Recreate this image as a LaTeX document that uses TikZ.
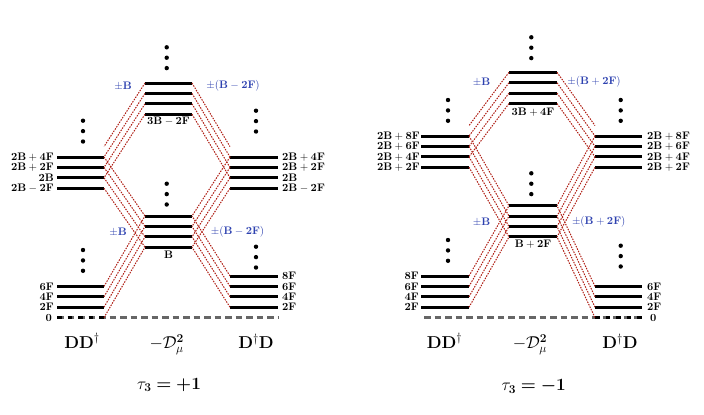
\documentclass[tikz,border=0pt]{standalone}
\usepackage{amsfonts, amsmath, amssymb, bm}
\usepackage{tikz}

\definecolor{shiftblue}{RGB}{45,65,175}
\definecolor{linkred}{RGB}{175,30,20}

\begin{document}
\begin{tikzpicture}[x=1bp, y=-1bp,
        level/.style={
            % The bar:
            line width=3bp,
            draw=black
        },
        zero/.style={
            % The ground level
            line width=3bp,
            draw=black!60,
            dash pattern=on 6.5bp off 4bp
        },
        link/.style={
            % The connectors
            line width=1bp,
            draw=linkred,
            dash pattern=on 1.5bp off 1.2bp
        },
        tag/.style={
            % Level labels
            font=\fontsize{10.8}{12}\selectfont,
            inner sep=0pt
        },
        shiftlabel/.style={
            % Shift labels
            text=shiftblue,
            font=\fontsize{10.8}{12}\selectfont,
            inner sep=0pt
        },
        title/.style={
            font=\fontsize{18.5}{22}\selectfont,
            anchor=base
        }]

    \useasboundingbox (0,0) rectangle (704,414);

    % ---------- tau_3 = +1 ----------
    \foreach \i/\y/\ytext in {1/157/2B+4F, 2/167.4/2B+2F, 3/177.8/2B, 4/188.2/2B-2F}
    {
        \coordinate (ulA\i) at (57,\y);
        \coordinate (ulB\i) at (104,\y);
        \coordinate (urA\i) at (230,\y);
        \coordinate (urB\i) at (278,\y);
        \draw [level] (ulA\i) -- (ulB\i);
        \draw [level] (urA\i) -- (urB\i);
        \node [tag, anchor=east] (ult\i) at (54,\y) {$\mathbf{\ytext}$};
        \node [tag, anchor=west] (urt\i) at (282,\y) {$\mathbf{\ytext}$};
    }
    \coordinate (ulB0) at (104,146.6);
    \coordinate (urA0) at (230,146.6);

    \foreach \i/\y in {1/83, 2/93.4, 3/103.8, 4/114.2}
    {
        \coordinate (mtA\i) at (145,\y);
        \coordinate (mtB\i) at (192,\y);
        \draw [level] (mtA\i) -- (mtB\i);
    }
    \foreach \i/\y in {1/216, 2/226.4, 3/236.8, 4/247.2}
    {
        \coordinate (mlA\i) at (145,\y);
        \coordinate (mlB\i) at (192,\y);
        \draw [level] (mlA\i) -- (mlB\i);
    }
    \node [tag] (mtt) at (168.5,121) {$\mathbf{3B-2F}$};
    \node [tag] (mlt) at (168.5,255) {$\mathbf{B}$};

    \foreach \i/\y/\ytext in {1/286.4/6F, 2/296.8/4F, 3/307.2/2F}
    {
        \coordinate (llA\i) at (57,\y);
        \coordinate (llB\i) at (104,\y);
        \draw [level] (llA\i) -- (llB\i);
        \node [tag, anchor=east] (llt\i) at (54,\y) {$\mathbf{\ytext}$};
    }
    \foreach \i/\y/\ytext in {1/276/8F, 2/286.4/6F, 3/296.8/4F, 4/307.2/2F}
    {
        \coordinate (lrA\i) at (230,\y);
        \coordinate (lrB\i) at (278,\y);
        \draw [level] (lrA\i) -- (lrB\i);
        \node [tag, anchor=west] (lrt\i) at (282,\y) {$\mathbf{\ytext}$};
    }
    \coordinate (llA4) at (57,317.6);
    \coordinate (llB4) at (104,317.6);
    \coordinate (zrB) at (278,317.6);
    \draw [zero] (llA4) -- (zrB);
    \draw [zero, draw=black, dash pattern=on 4.5bp off 6bp] (llA4) -- (llB4);
    \node [tag, anchor=east] (llt4) at (52,317.6) {$\mathbf{0}$};

    \foreach \i [evaluate=\i as \j using int(\i-1)] in {1,...,4}
    {
        \draw [link] (mtA\i) -- (ulB\j);
        \draw [link] (mtB\i) -- (urA\j);
        \draw [link] (ulB\i) -- (mlA\i);
        \draw [link] (urA\i) -- (mlB\i);
        \draw [link] (llB\i) -- (mlA\i);
        \draw [link] (lrA\i) -- (mlB\i);
    }

    \foreach \x/\y in {166.7/47.3, 83/120.7, 256/110.7, 166.7/183.7, 83/250, 256/246.7}
    {
        \fill (\x,\y) circle (2.2bp) (\x,\y+10.4) circle (2.2bp) (\x,\y+20.8) circle (2.2bp);
    }

    \node [shiftlabel] (sa) at (123,86) {$\pm\mathbf{B}$};
    \node [shiftlabel] (sb) at (233,86) {$\pm(\mathbf{B-2F})$};
    \node [shiftlabel] (sc) at (118,232) {$\pm\mathbf{B}$};
    \node [shiftlabel] (sd) at (237.5,232) {$\pm(\mathbf{B-2F})$};

    \node [title] (ta) at (82,348.3) {$\mathbf{DD}^\dagger$};
    \node [title] (tb) at (166.7,348.3) {$-\mathcal{D}_\mu^{\mathbf{2}}$};
    \node [title] (tc) at (256,348.3) {$\mathbf{D}^\dagger\mathbf{D}$};
    \node [title] (td) at (169,389) {$\tau_{\mathbf{3}} \bm{=} \bm{+1}$};

    % ---------- tau_3 = -1 ----------
    \foreach \i/\y/\ytext in {1/136/2B+8F, 2/146.4/2B+6F, 3/156.8/2B+4F, 4/167.2/2B+2F}
    {
        \coordinate (vlA\i) at (421,\y);
        \coordinate (vlB\i) at (469,\y);
        \coordinate (vrA\i) at (595,\y);
        \coordinate (vrB\i) at (642,\y);
        \draw [level] (vlA\i) -- (vlB\i);
        \draw [level] (vrA\i) -- (vrB\i);
        \node [tag, anchor=east] (vlt\i) at (420,\y) {$\mathbf{\ytext}$};
        \node [tag, anchor=west] (vrt\i) at (647,\y) {$\mathbf{\ytext}$};
    }
    \coordinate (vlB0) at (469,125.6);
    \coordinate (vrA0) at (595,125.6);

    \foreach \i/\y in {1/72.3, 2/82.7, 3/93.1, 4/103.5}
    {
        \coordinate (ntA\i) at (509,\y);
        \coordinate (ntB\i) at (557,\y);
        \draw [level] (ntA\i) -- (ntB\i);
    }
    \foreach \i/\y in {1/205.7, 2/216.1, 3/226.5, 4/236.9}
    {
        \coordinate (nlA\i) at (509,\y);
        \coordinate (nlB\i) at (557,\y);
        \draw [level] (nlA\i) -- (nlB\i);
    }
    \node [tag] (ntt) at (533,112.5) {$\mathbf{3B+4F}$};
    \node [tag] (nlt) at (533,244.5) {$\mathbf{B+2F}$};

    \foreach \i/\y/\ytext in {1/276/8F, 2/286.4/6F, 3/296.8/4F, 4/307.2/2F}
    {
        \coordinate (klA\i) at (421,\y);
        \coordinate (klB\i) at (469,\y);
        \draw [level] (klA\i) -- (klB\i);
        \node [tag, anchor=east] (klt\i) at (419,\y) {$\mathbf{\ytext}$};
    }
    \foreach \i/\y/\ytext in {1/286.4/6F, 2/296.8/4F, 3/307.2/2F}
    {
        \coordinate (krA\i) at (595,\y);
        \coordinate (krB\i) at (642,\y);
        \draw [level] (krA\i) -- (krB\i);
        \node [tag, anchor=west] (krt\i) at (647,\y) {$\mathbf{\ytext}$};
    }
    \coordinate (krA4) at (595,317.6);
    \coordinate (krB4) at (642,317.6);
    \coordinate (zlA) at (424,317.6);
    \draw [zero] (zlA) -- (krB4);
    \draw [zero, draw=black, dash pattern=on 4.5bp off 6bp] (krA4) -- (krB4);
    \node [tag, anchor=west] (krt4) at (650,317.6) {$\mathbf{0}$};

    \foreach \i [evaluate=\i as \j using int(\i-1)] in {1,...,4}
    {
        \draw [link] (ntA\i) -- (vlB\j);
        \draw [link] (ntB\i) -- (vrA\j);
        \draw [link] (vlB\i) -- (nlA\i);
        \draw [link] (vrA\i) -- (nlB\i);
        \draw [link] (klB\i) -- (nlA\i);
        \draw [link] (krA\i) -- (nlB\i);
    }

    \foreach \x/\y in {531.3/37.3, 448/100, 620.7/100, 531.3/173.3, 448/240, 620.7/245.7}
    {
        \fill (\x,\y) circle (2.2bp) (\x,\y+10.4) circle (2.2bp) (\x,\y+20.8) circle (2.2bp);
    }

    \node [shiftlabel] (na) at (481.5,82) {$\pm\mathbf{B}$};
    \node [shiftlabel] (nb) at (594,82) {$\pm(\mathbf{B+2F})$};
    \node [shiftlabel] (nc) at (481.5,222) {$\pm\mathbf{B}$};
    \node [shiftlabel] (nd) at (598.7,222) {$\pm(\mathbf{B+2F})$};

    \node [title] (tk) at (444.5,348.3) {$\mathbf{DD}^\dagger$};
    \node [title] (tl) at (530,348.3) {$-\mathcal{D}_\mu^{\mathbf{2}}$};
    \node [title] (tm) at (620,348.3) {$\mathbf{D}^\dagger\mathbf{D}$};
    \node [title] (tn) at (533.7,390.5) {$\tau_{\mathbf{3}} \bm{=} \bm{-1}$};

\end{tikzpicture}
\end{document}
